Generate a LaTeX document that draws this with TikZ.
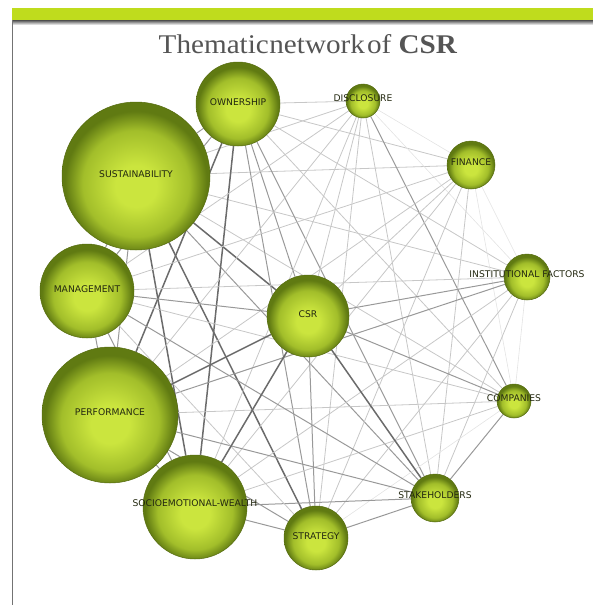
\documentclass[tikz,border=0pt]{standalone}
\usepackage{fontspec}
\usepackage{graphicx}
\setmainfont{Liberation Serif}
\newfontfamily\labelfont{DejaVu Sans}

\pgfdeclarelayer{edges}
\pgfsetlayers{edges,main}

\definecolor{barGreen}{HTML}{BFDC1D}
\definecolor{ballLight}{HTML}{CBE53E}
\definecolor{ballMid}{HTML}{A2BE2A}
\definecolor{ballDark}{HTML}{607A12}
\definecolor{ballRim}{HTML}{566C10}
\definecolor{titleGray}{HTML}{555555}
\definecolor{labelInk}{HTML}{232810}

% sphere-like shading, highlight slightly below the centre
\pgfdeclareradialshading{greenball}{\pgfpoint{0bp}{-4bp}}{%
  color(0bp)=(ballLight); color(7bp)=(ballLight); color(18bp)=(ballMid);
  color(24bp)=(ballDark); color(30bp)=(ballDark); color(50bp)=(ballDark)}

\tikzset{
  ball/.style={circle, shading=greenball, draw=ballRim, line width=0.5pt,
    inner sep=0pt, minimum size=#1},
  lbl/.style={font=\labelfont\fontsize{9.2}{10}\selectfont, text=labelInk,
    inner sep=0pt},
  lk1/.style={line width=0.6pt, draw=black!11},
  lk2/.style={line width=0.8pt, draw=black!22},
  lk3/.style={line width=1.0pt, draw=black!40},
  lk4/.style={line width=1.5pt, draw=black!58},
}

\begin{document}
\begin{tikzpicture}[x=1pt,y=-1pt]
\useasboundingbox (0,0) rectangle (593,605);

% header band and frame
\fill[barGreen] (12,8) rectangle (593,20);
\shade[top color=black!70, bottom color=white] (12,20) rectangle (593,25);
\draw[black!55, line width=1pt] (12,20) -- (12,605);

\node[anchor=base, inner sep=0pt] (title) at (308,53)
  {\scalebox{1.08}[1]{\fontsize{27}{28}\selectfont\color{titleGray}%
  Thematic\hspace{0.5pt}network\hspace{2pt}of \textbf{CSR}}};

% themes
\node[ball=148] (SUS) at (136,176) {};
\node[ball=84]  (OWN) at (238,104) {};
\node[ball=34]  (DIS) at (363,101) {};
\node[ball=48]  (FIN) at (471,165) {};
\node[ball=46]  (INS) at (527,277) {};
\node[ball=34]  (COM) at (514,401) {};
\node[ball=48]  (STK) at (435,498) {};
\node[ball=64]  (STR) at (316,538) {};
\node[ball=104] (SEW) at (195,507) {};
\node[ball=136] (PER) at (110,415) {};
\node[ball=94]  (MAN) at (87,291) {};
\node[ball=82]  (CSR) at (308,316) {};

% theme labels
\node[lbl] (lSUS) at ([yshift=2pt]SUS.center) {SUSTAINABILITY};
\node[lbl] (lOWN) at ([yshift=2pt]OWN.center) {OWNERSHIP};
\node[lbl] (lDIS) at ([yshift=3pt]DIS.center) {DISCLOSURE};
\node[lbl] (lFIN) at ([yshift=3pt]FIN.center) {FINANCE};
\node[lbl] (lINS) at ([yshift=3pt]INS.center) {INSTITUTIONAL FACTORS};
\node[lbl] (lCOM) at ([yshift=3pt]COM.center) {COMPANIES};
\node[lbl] (lSTK) at ([yshift=3pt]STK.center) {STAKEHOLDERS};
\node[lbl] (lSTR) at ([yshift=2pt]STR.center) {STRATEGY};
\node[lbl] (lSEW) at ([yshift=4pt]SEW.center) {SOCIOEMOTIONAL-WEALTH};
\node[lbl] (lPER) at ([yshift=3pt]PER.center) {PERFORMANCE};
\node[lbl] (lMAN) at ([yshift=2pt]MAN.center) {MANAGEMENT};
\node[lbl] (lCSR) at ([yshift=2pt]CSR.center) {CSR};

% co-occurrence links, drawn beneath the spheres
\begin{pgfonlayer}{edges}
\foreach \a/\b/\w in {
  SUS/OWN/3, SUS/DIS/2, SUS/FIN/2, SUS/INS/2, SUS/COM/2, SUS/STK/3,
  SUS/STR/4, SUS/SEW/4, SUS/PER/3, SUS/MAN/3, SUS/CSR/4,
  OWN/DIS/2, OWN/FIN/2, OWN/INS/2, OWN/COM/2, OWN/STK/3, OWN/STR/3,
  OWN/SEW/4, OWN/PER/4, OWN/MAN/3, OWN/CSR/3,
  DIS/FIN/1, DIS/INS/1, DIS/COM/3, DIS/STK/2, DIS/STR/2, DIS/SEW/2,
  DIS/PER/2, DIS/MAN/2, DIS/CSR/2,
  FIN/INS/1, FIN/COM/1, FIN/STK/2, FIN/STR/2, FIN/SEW/2, FIN/PER/2,
  FIN/MAN/2, FIN/CSR/2,
  INS/COM/1, INS/STK/2, INS/STR/2, INS/SEW/2, INS/PER/3, INS/MAN/2,
  INS/CSR/3,
  COM/STK/3, COM/STR/1, COM/SEW/2, COM/PER/2, COM/MAN/2, COM/CSR/3,
  STK/STR/3, STK/SEW/3, STK/PER/3, STK/MAN/3, STK/CSR/4,
  STR/SEW/3, STR/PER/3, STR/MAN/2, STR/CSR/3,
  SEW/PER/3, SEW/MAN/3, SEW/CSR/4,
  PER/MAN/3, PER/CSR/4, MAN/CSR/3}
  \draw[lk\w] (\a) -- (\b);
\end{pgfonlayer}
\end{tikzpicture}
\end{document}
